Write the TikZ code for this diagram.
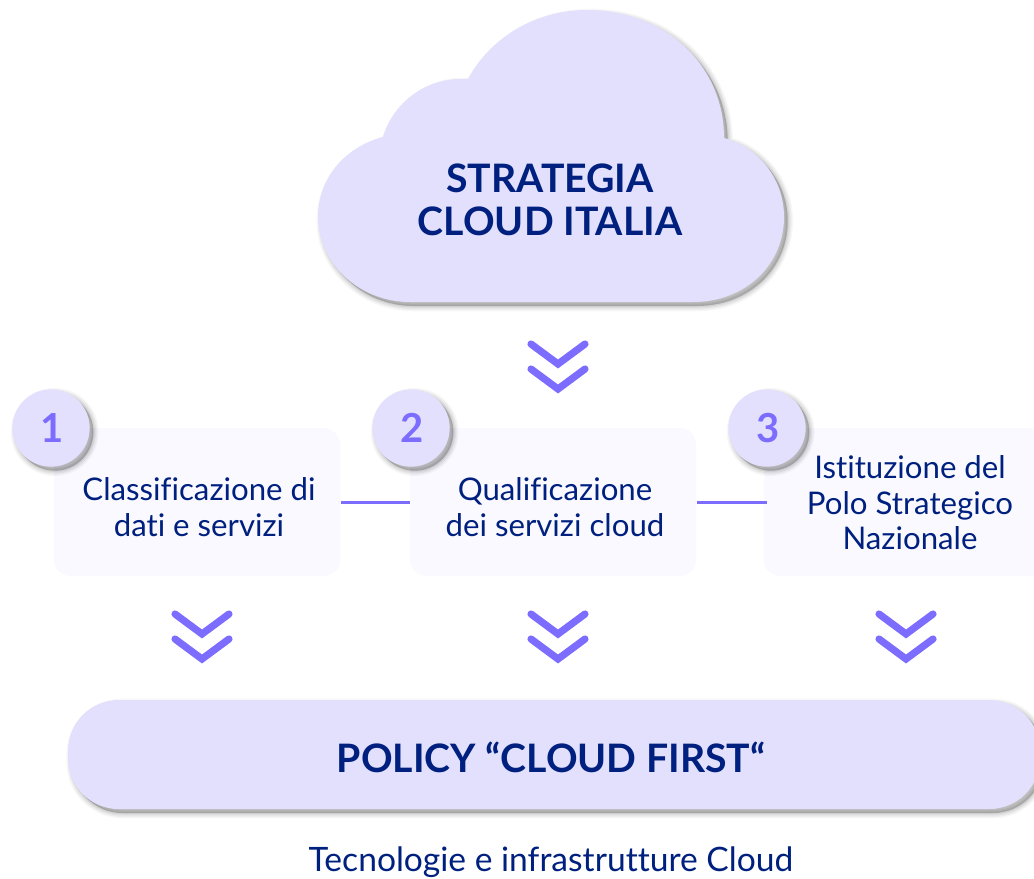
\documentclass[tikz,border=0pt]{standalone}
\usepackage{fontspec}
\setmainfont{Lato}[Ligatures={NoCommon,NoRare,TeX}]
\definecolor{lil}{HTML}{E3E0FD}
\definecolor{pale}{HTML}{FAF9FF}
\definecolor{acc}{HTML}{7C6DFF}
\definecolor{navy}{HTML}{00207F}
\newcommand{\nudge}[1]{\raisebox{-.8pt}{\hspace*{1.2pt}#1}}
\tikzset{
  softshadow/.style={
    preaction={draw=black,fill=black,opacity=.03,line width=8pt,transform canvas={shift={(2.8pt,-3pt)}}},
    preaction={draw=black,fill=black,opacity=.04,line width=6pt,transform canvas={shift={(2.8pt,-3pt)}}},
    preaction={draw=black,fill=black,opacity=.05,line width=4pt,transform canvas={shift={(2.8pt,-3pt)}}},
    preaction={draw=black,fill=black,opacity=.06,line width=2pt,transform canvas={shift={(2.8pt,-3pt)}}},
    preaction={fill=black,opacity=.06,transform canvas={shift={(2.8pt,-3pt)}}}},
  boxshape/.style={fill=pale,rounded corners=12pt,minimum width=214.5pt,minimum height=111pt,inner sep=0pt},
  badge/.style={circle,fill=lil,minimum size=58pt,inner sep=0pt,text=acc,softshadow,font=\fontsize{30pt}{30pt}\selectfont\bfseries},
  boxtext/.style={text=navy,align=center,inner sep=0pt,font=\fontsize{23.4pt}{26.6pt}\selectfont},
  title/.style={text=navy,align=center,inner sep=0pt,font=\fontsize{29.4pt}{32.5pt}\selectfont\bfseries},
  chev/.style={draw=acc,line width=5.4pt,line cap=round,line join=miter},
  link/.style={draw=acc,line width=2.2pt,transform canvas={yshift=-.6pt}}
}
\newcommand{\dchev}[2]{%
  \draw[chev] (#1-27,#2) -- (#1,#2+20) -- (#1+27,#2);
  \draw[chev] (#1-27,#2+25) -- (#1,#2+45) -- (#1+27,#2+25);}
\begin{document}
\begin{tikzpicture}[x=0.75pt,y=-0.75pt]
\useasboundingbox (0,0) rectangle (1034,878);
\clip (0,0) rectangle (1034,878);
% cloud
\path[fill=lil,softshadow] (468,79) .. controls (490,38) and (535,10) .. (587,10)
  .. controls (665,10) and (724,65) .. (724,138)
  .. controls (760,148) and (784,180) .. (784,217)
  .. controls (784,265) and (745,302) .. (693,302)
  -- (410,302)
  .. controls (358,302) and (318,262) .. (318,217)
  .. controls (318,178) and (345,147) .. (383,137)
  .. controls (393,103) and (425,79) .. (460,79) -- cycle;
\node[title] (cloudtext) at (550,200) {STRATEGIA\\CLOUD ITALIA};
% boxes
\node[boxshape] (b1) at (197,502) {};
\node[boxshape] (b2) at (553,502) {};
\node[boxshape] (b3) at (907,502) {};
\draw[link] (b1.east) ++(1,0) -- (b2.west);
\draw[link] (b2.east) ++(1,0) -- ([xshift=2.25pt]b3.west);
\node[badge] (n1) at (51,428) {\nudge{1}};
\node[badge] (n2) at (411,428) {\nudge{2}};
\node[badge] (n3) at (767,428) {\nudge{3}};
\node[boxtext] (t1) at (199,507) {Classificazione di\\dati e servizi};
\node[boxtext] (t2) at (555,507) {Qualificazione\\dei servizi cloud};
\node[boxtext] (t3) at (910,503) {Istituzione del\\Polo Strategico\\Nazionale};
% chevrons
\dchev{558}{344}
\dchev{202}{614}
\dchev{558}{614}
\dchev{906}{614}
% pill
\node[fill=lil,rounded corners=38pt,minimum width=972*0.75pt,minimum height=109*0.75pt,inner sep=0pt,softshadow] (pill) at (554,754.5) {};
\node[title] (pt) at (551,757) {POLICY “CLOUD FIRST“};
\node[text=navy,inner sep=0pt,font=\fontsize{25.2pt}{28pt}\selectfont] (bottom) at (551,862) {Tecnologie e infrastrutture Cloud};
\end{tikzpicture}
\end{document}
